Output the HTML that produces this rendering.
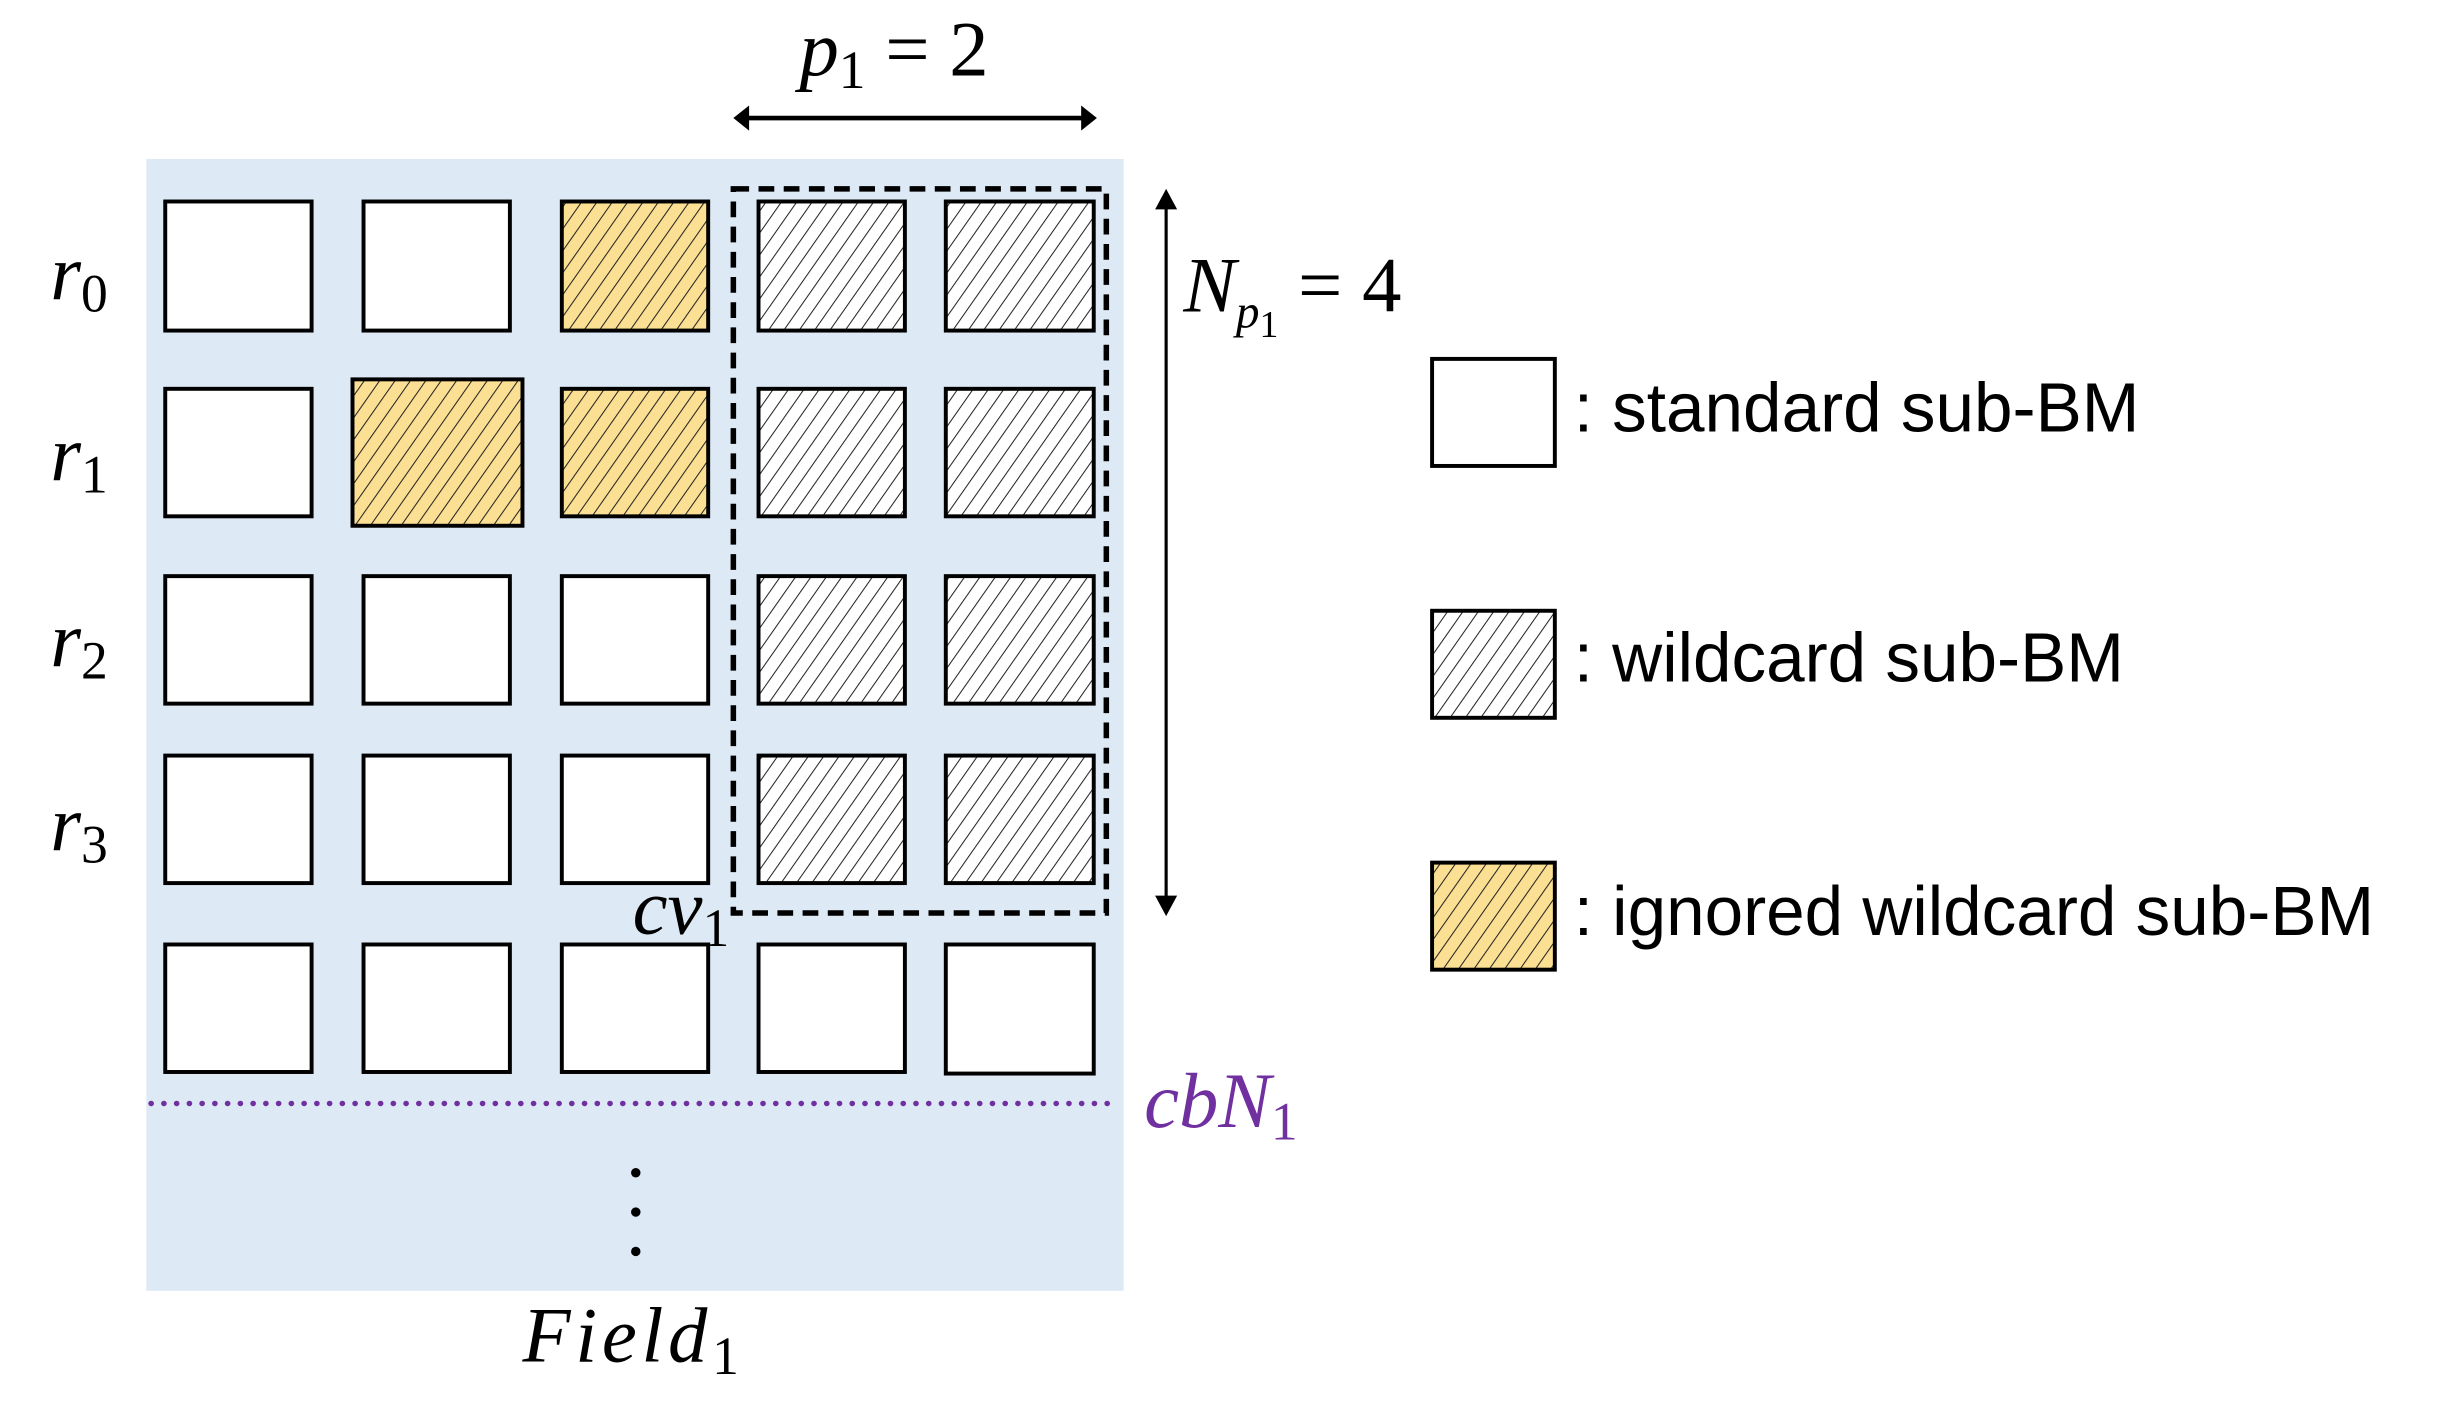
<!DOCTYPE html>
<html><head><meta charset="utf-8"><style>html,body{margin:0;padding:0;background:#fff}svg{display:block}</style></head>
<body>
<svg width="2455" height="1412" viewBox="0 0 1560 897" preserveAspectRatio="none" xmlns="http://www.w3.org/2000/svg">
<defs>
<pattern id="hw" width="8" height="8" patternUnits="userSpaceOnUse" patternTransform="rotate(35)">
<rect width="8" height="8" fill="#fff"/><line x1="0" y1="0" x2="0" y2="8" stroke="#222" stroke-width="1.3"/></pattern>
<pattern id="hy" width="8" height="8" patternUnits="userSpaceOnUse" patternTransform="rotate(35)">
<rect width="8" height="8" fill="#fbdf93"/><line x1="0" y1="0" x2="0" y2="8" stroke="#222" stroke-width="1.3"/></pattern>
</defs>
<rect x="93" y="101" width="621" height="719" fill="#dde9f5"/>
<g stroke="#000" stroke-width="2.5">
<rect x="105" y="128" width="93" height="82" fill="#fff"/>
<rect x="231" y="128" width="93" height="82" fill="#fff"/>
<rect x="357" y="128" width="93" height="82" fill="url(#hy)"/>
<rect x="482" y="128" width="93" height="82" fill="url(#hw)"/>
<rect x="601" y="128" width="94" height="82" fill="url(#hw)"/>
<rect x="105" y="247" width="93" height="81" fill="#fff"/>
<rect x="224" y="241" width="108" height="93" fill="url(#hy)"/>
<rect x="357" y="247" width="93" height="81" fill="url(#hy)"/>
<rect x="482" y="247" width="93" height="81" fill="url(#hw)"/>
<rect x="601" y="247" width="94" height="81" fill="url(#hw)"/>
<rect x="105" y="366" width="93" height="81" fill="#fff"/>
<rect x="231" y="366" width="93" height="81" fill="#fff"/>
<rect x="357" y="366" width="93" height="81" fill="#fff"/>
<rect x="482" y="366" width="93" height="81" fill="url(#hw)"/>
<rect x="601" y="366" width="94" height="81" fill="url(#hw)"/>
<rect x="105" y="480" width="93" height="81" fill="#fff"/>
<rect x="231" y="480" width="93" height="81" fill="#fff"/>
<rect x="357" y="480" width="93" height="81" fill="#fff"/>
<rect x="482" y="480" width="93" height="81" fill="url(#hw)"/>
<rect x="601" y="480" width="94" height="81" fill="url(#hw)"/>
<rect x="105" y="600" width="93" height="81" fill="#fff"/>
<rect x="231" y="600" width="93" height="81" fill="#fff"/>
<rect x="357" y="600" width="93" height="81" fill="#fff"/>
<rect x="482" y="600" width="93" height="81" fill="#fff"/>
<rect x="601" y="600" width="94" height="82" fill="#fff"/>
<rect x="910" y="228" width="78" height="68" fill="#fff"/>
<rect x="910" y="388" width="78" height="68" fill="url(#hw)"/>
<rect x="910" y="548" width="78" height="68" fill="url(#hy)"/>
</g>
<rect x="466" y="120" width="237" height="460" fill="none" stroke="#000" stroke-width="3.5" stroke-dasharray="10,6"/>
<line x1="96" y1="701" x2="710" y2="701" stroke="#7030a0" stroke-width="3.5" stroke-dasharray="0.1,8" stroke-linecap="round"/>
<g fill="#000">
<line x1="475" y1="75" x2="688" y2="75" stroke="#000" stroke-width="3"/>
<polygon points="466,75 476,67 476,83"/><polygon points="697,75 687,67 687,83"/>
<line x1="741" y1="130" x2="741" y2="572" stroke="#000" stroke-width="2"/>
<polygon points="741,120 734,133 748,133"/><polygon points="741,582 734,569 748,569"/>
<circle cx="404" cy="745" r="3"/><circle cx="404" cy="770" r="3"/><circle cx="404" cy="795" r="3"/>
</g>
<g font-family="'Liberation Serif',serif" font-style="italic" font-size="50" fill="#000">
<text x="32" y="190">r<tspan font-size="34" font-style="normal" dy="8">0</tspan></text>
<text x="32" y="305">r<tspan font-size="34" font-style="normal" dy="8">1</tspan></text>
<text x="32" y="423">r<tspan font-size="34" font-style="normal" dy="8">2</tspan></text>
<text x="32" y="540">r<tspan font-size="34" font-style="normal" dy="8">3</tspan></text>
<text x="508" y="48">p<tspan font-size="34" font-style="normal" dy="8">1</tspan><tspan font-style="normal" dy="-8"> = 2</tspan></text>
<text x="752" y="198">N<tspan font-size="30" dy="10">p</tspan><tspan font-size="24" font-style="normal" dy="6">1</tspan><tspan font-style="normal" dy="-16">  = 4</tspan></text>
<text x="402" y="593">cv<tspan font-size="34" font-style="normal" dy="8">1</tspan></text>
<text x="727" y="716" fill="#7030a0">cbN<tspan font-size="34" font-style="normal" dy="8">1</tspan></text>
<text x="332" y="865" letter-spacing="3">Field<tspan font-size="34" font-style="normal" dy="8">1</tspan></text>
</g>
<g font-family="'Liberation Sans',sans-serif" font-size="44" fill="#000">
<text x="1000" y="274">: standard sub-BM</text>
<text x="1000" y="433">: wildcard sub-BM</text>
<text x="1000" y="594">:  ignored wildcard sub-BM</text>
</g>
</svg>
</body></html>
